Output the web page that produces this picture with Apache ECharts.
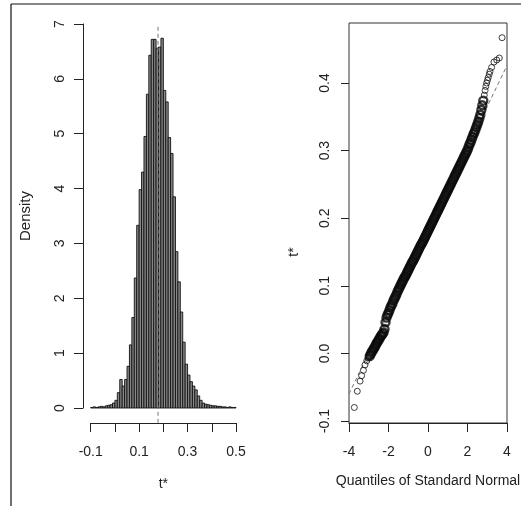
<!DOCTYPE html>
<html>
<head>
<meta charset="utf-8">
<title>t* bootstrap distribution</title>
<script src="https://cdn.jsdelivr.net/npm/echarts/dist/echarts.min.js"></script>
<style>
html, body { margin: 0; padding: 0; background: #fff; }
#chart { width: 521px; height: 506px; }
</style>
</head>
<body>
<div id="chart"></div>
<script>
// histogram of t* (density scale), bins of 0.01 starting at -0.1
var binStart = -0.1
var binWidth = 0.01
var histDensity = [
  0.01, 0.02, 0.01, 0.02, 0.03, 0.02, 0.04, 0.05, 0.06, 0.09,
  0.14, 0.28, 0.52, 0.40, 0.52, 0.76, 1.15, 1.65, 2.37, 3.33,
  3.98, 4.30, 4.95, 5.72, 6.43, 6.72, 6.72, 6.56, 6.58, 6.74,
  5.79, 5.58, 4.93, 4.64, 3.85, 2.85, 2.30, 1.75, 1.20, 0.80,
  0.60, 0.48, 0.40, 0.33, 0.22, 0.14, 0.09, 0.07, 0.06, 0.05,
  0.04, 0.04, 0.03, 0.03, 0.02, 0.02, 0.01, 0.02, 0.01, 0.01
]
var tMean = 0.178
var meanLineY = [-0.27, 7.0] // full height of the plot region
var histXLabels = ['-0.1', '0.1', '0.3', '0.5']

// normal Q-Q plot of t*
var qqLowerTail = [
  [-3.73, -0.080], [-3.58, -0.056], [-3.44, -0.041], [-3.36, -0.033], [-3.27, -0.025],
  [-3.19, -0.017], [-3.10, -0.011], [-3.04, -0.007], [-3.00, -0.005]
]
var qqBody = [
  [-2.95, -0.004], [-2.90, -0.001], [-2.85, 0.002], [-2.80, 0.004], [-2.75, 0.007],
  [-2.70, 0.009], [-2.65, 0.012], [-2.60, 0.015], [-2.55, 0.017], [-2.50, 0.020],
  [-2.45, 0.022], [-2.40, 0.025], [-2.35, 0.027], [-2.30, 0.029], [-2.25, 0.031],
  [-2.20, 0.036], [-2.15, 0.046], [-2.10, 0.053], [-2.05, 0.057], [-2.00, 0.060],
  [-1.95, 0.064], [-1.90, 0.068], [-1.85, 0.071], [-1.80, 0.074], [-1.75, 0.078],
  [-1.70, 0.081], [-1.65, 0.084], [-1.60, 0.087], [-1.55, 0.091], [-1.50, 0.094],
  [-1.45, 0.097], [-1.40, 0.100], [-1.35, 0.103], [-1.30, 0.106], [-1.25, 0.109],
  [-1.20, 0.112], [-1.15, 0.114], [-1.10, 0.117], [-1.05, 0.120], [-1.00, 0.123],
  [-0.95, 0.126], [-0.90, 0.129], [-0.85, 0.132], [-0.80, 0.135], [-0.75, 0.137],
  [-0.70, 0.140], [-0.65, 0.143], [-0.60, 0.146], [-0.55, 0.149], [-0.50, 0.152],
  [-0.45, 0.155], [-0.40, 0.158], [-0.35, 0.161], [-0.30, 0.163], [-0.25, 0.166],
  [-0.20, 0.169], [-0.15, 0.172], [-0.10, 0.175], [-0.05, 0.178], [0.00, 0.181],
  [0.05, 0.184], [0.10, 0.187], [0.15, 0.190], [0.20, 0.193], [0.25, 0.196],
  [0.30, 0.199], [0.35, 0.202], [0.40, 0.205], [0.45, 0.208], [0.50, 0.211],
  [0.55, 0.214], [0.60, 0.217], [0.65, 0.220], [0.70, 0.223], [0.75, 0.226],
  [0.80, 0.229], [0.85, 0.232], [0.90, 0.235], [0.95, 0.238], [1.00, 0.241],
  [1.05, 0.244], [1.10, 0.247], [1.15, 0.250], [1.20, 0.253], [1.25, 0.256],
  [1.30, 0.259], [1.35, 0.262], [1.40, 0.265], [1.45, 0.268], [1.50, 0.271],
  [1.55, 0.274], [1.60, 0.277], [1.65, 0.280], [1.70, 0.283], [1.75, 0.286],
  [1.80, 0.289], [1.85, 0.292], [1.90, 0.295], [1.95, 0.298], [2.00, 0.301],
  [2.05, 0.305], [2.10, 0.309], [2.15, 0.312], [2.20, 0.316], [2.25, 0.320],
  [2.30, 0.324], [2.35, 0.327], [2.40, 0.331], [2.45, 0.335], [2.50, 0.339],
  [2.55, 0.343], [2.60, 0.348], [2.65, 0.353], [2.70, 0.360], [2.75, 0.367],
  [2.80, 0.374]
]
var qqUpperTail = [
  [2.85, 0.382], [2.89, 0.389], [2.93, 0.395], [2.97, 0.400], [3.01, 0.404],
  [3.05, 0.408], [3.10, 0.413], [3.14, 0.417], [3.22, 0.423], [3.34, 0.431],
  [3.48, 0.434], [3.61, 0.437], [3.75, 0.467]
]
var qqLine = [[-4, -0.060], [4, 0.426]]

var font = 'Liberation Sans, Arial, Helvetica, sans-serif'
var textCol = '#222'
var lineCol = '#222'

var histData = histDensity.map(function (d, i) {
  return [binStart + i * binWidth, binStart + (i + 1) * binWidth, d]
})

var labelStyle = { fontFamily: font, fontSize: 14, color: textCol }
var openCircle = { color: 'rgba(0,0,0,0)', borderColor: '#111', borderWidth: 1 }

var chart = echarts.init(document.getElementById('chart'))
chart.setOption({
  animation: false,
  backgroundColor: '#fff',
  graphic: [
    // outer frame of the figure
    { type: 'line', shape: { x1: 11, y1: 4, x2: 521, y2: 4 }, style: { stroke: '#111', lineWidth: 1.2 } },
    { type: 'line', shape: { x1: 11, y1: 4, x2: 11, y2: 506 }, style: { stroke: '#111', lineWidth: 1.2 } }
  ],
  grid: [
    { left: 90.7, top: 24, width: 145.3, height: 384, outerBoundsMode: 'none' },
    { left: 349, top: 83, width: 158, height: 338, outerBoundsMode: 'none' },
    // box around the Q-Q plot
    { left: 349, top: 23, width: 158, height: 400, show: true, borderColor: '#333', borderWidth: 1, backgroundColor: 'transparent', outerBoundsMode: 'none' }
  ],
  xAxis: [
    {
      gridIndex: 0, type: 'value', min: -0.1, max: 0.5, interval: 0.1, offset: 15,
      axisLine: { show: true, onZero: false, lineStyle: { color: lineCol } },
      axisTick: { show: true, length: 9, lineStyle: { color: lineCol } },
      axisLabel: Object.assign({
        margin: 22,
        formatter: function (v) {
          var s = v.toFixed(1)
          return histXLabels.indexOf(s) >= 0 ? s : ''
        }
      }, labelStyle),
      splitLine: { show: false },
      name: 't*', nameLocation: 'middle', nameGap: 54, nameMoveOverlap: false,
      nameTextStyle: labelStyle
    },
    {
      gridIndex: 1, type: 'value', min: -4, max: 4, interval: 2, offset: 2,
      axisLine: { show: true, onZero: false, lineStyle: { color: lineCol } },
      axisTick: { show: true, length: 9, lineStyle: { color: lineCol } },
      axisLabel: Object.assign({ margin: 22 }, labelStyle),
      splitLine: { show: false },
      name: 'Quantiles of Standard Normal', nameLocation: 'middle', nameGap: 51, nameMoveOverlap: false,
      nameTextStyle: labelStyle
    },
    { gridIndex: 2, type: 'value', min: 0, max: 1, show: false }
  ],
  yAxis: [
    {
      gridIndex: 0, type: 'value', min: 0, max: 7, interval: 1, offset: 7.7,
      axisLine: { show: true, onZero: false, lineStyle: { color: lineCol } },
      axisTick: { show: true, length: 9, lineStyle: { color: lineCol } },
      axisLabel: Object.assign({ margin: 16, rotate: 90 }, labelStyle),
      splitLine: { show: false },
      name: 'Density', nameLocation: 'middle', nameGap: 50, nameRotate: 90, nameMoveOverlap: false,
      nameTextStyle: { fontFamily: font, fontSize: 15, color: textCol }
    },
    {
      gridIndex: 1, type: 'value', min: -0.1, max: 0.4, interval: 0.1,
      axisLine: { show: false, onZero: false },
      axisTick: { show: true, length: 8, lineStyle: { color: lineCol } },
      axisLabel: Object.assign({
        margin: 17, rotate: 90,
        formatter: function (v) { return v.toFixed(1) }
      }, labelStyle),
      splitLine: { show: false },
      name: 't*', nameLocation: 'middle', nameGap: 48, nameRotate: 90, nameMoveOverlap: false,
      nameTextStyle: labelStyle
    },
    { gridIndex: 2, type: 'value', min: 0, max: 1, show: false }
  ],
  series: [
    {
      type: 'custom',
      xAxisIndex: 0,
      yAxisIndex: 0,
      silent: true,
      encode: { x: [0, 1], y: 2 },
      data: histData,
      renderItem: function (params, api) {
        var p0 = api.coord([api.value(0), api.value(2)])
        var p1 = api.coord([api.value(1), 0])
        return {
          type: 'rect',
          shape: { x: p0[0], y: p0[1], width: p1[0] - p0[0], height: p1[1] - p0[1] },
          style: { fill: '#888', stroke: '#111', lineWidth: 0.9 }
        }
      },
      z: 2
    },
    {
      // dashed line at the observed t
      type: 'line',
      xAxisIndex: 0,
      yAxisIndex: 0,
      silent: true,
      clip: false,
      symbol: 'none',
      data: [[tMean, meanLineY[0]], [tMean, meanLineY[1]]],
      lineStyle: { color: '#777', width: 1, type: [4, 3] },
      z: 3
    },
    {
      // qqline, drawn under the points
      type: 'line',
      xAxisIndex: 1,
      yAxisIndex: 1,
      silent: true,
      clip: false,
      symbol: 'none',
      data: qqLine,
      lineStyle: { color: '#777', width: 1, type: [4, 3] },
      z: 2
    },
    {
      // sparse tails: single open circles
      type: 'scatter',
      xAxisIndex: 1,
      yAxisIndex: 1,
      silent: true,
      clip: false,
      symbol: 'circle',
      symbolSize: 6,
      data: qqLowerTail.concat(qqUpperTail),
      itemStyle: openCircle,
      z: 3
    },
    {
      // dense body: overlapping circles form a solid band
      type: 'scatter',
      xAxisIndex: 1,
      yAxisIndex: 1,
      silent: true,
      clip: false,
      symbol: 'circle',
      symbolSize: 8,
      data: qqBody,
      itemStyle: { color: 'rgba(0,0,0,0)', borderColor: '#0a0a0a', borderWidth: 2.4 },
      z: 3
    }
  ]
})
</script>
</body>
</html>
